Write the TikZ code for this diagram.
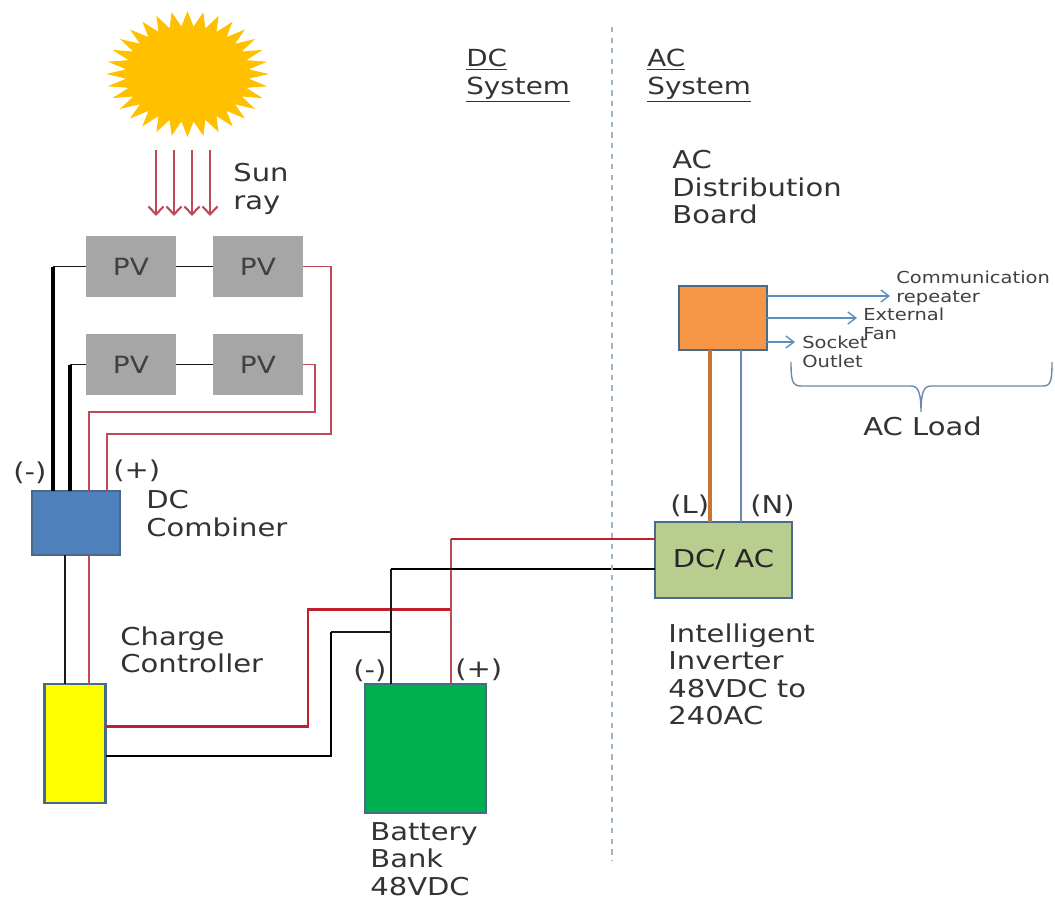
\documentclass[tikz,border=0pt]{standalone}
\usepackage{fontspec}
\setmainfont[FakeStretch=1.18]{DejaVu Sans}
\usetikzlibrary{shapes.geometric,arrows.meta}
\definecolor{pvgray}{HTML}{A6A6A6}
\definecolor{edgeblue}{HTML}{4A6A8A}
\definecolor{combblue}{HTML}{4F81BD}
\definecolor{wirered}{HTML}{C0202C}
\definecolor{thinred}{HTML}{BE4A58}
\definecolor{loadblue}{HTML}{5F8FBF}
\definecolor{dashblue}{HTML}{9DB5C5}
\definecolor{sunfill}{HTML}{FFC000}
\definecolor{ctrlfill}{HTML}{FFFF00}
\definecolor{batfill}{HTML}{00B050}
\definecolor{invfill}{HTML}{B9CE8E}
\definecolor{boardfill}{HTML}{F79646}
\definecolor{linewire}{HTML}{C87533}
\tikzset{
	pvbox/.style={fill=pvgray, minimum width=1.8cm, minimum height=1.22cm, inner sep=0pt, text=black!75, font=\fontsize{13.5}{15}\selectfont},
	unitbox/.style={draw=edgeblue, line width=1.3pt, inner sep=0pt},
	label/.style={anchor=north west, align=left, inner sep=0pt, yshift=-1.8pt, text=black!80, font=\fontsize{14}{15.6}\selectfont},
	small/.style={anchor=north west, align=left, inner sep=0pt, yshift=-1.5pt, text=black!75, font=\fontsize{9.4}{11}\selectfont},
	blackthin/.style={black!90, line width=0.8pt},
	blackmid/.style={black, line width=1.45pt},
	blackthick/.style={black, line width=1.75pt},
	redthin/.style={thinred, line width=0.9pt},
	redthick/.style={wirered, line width=1.7pt},
	ray/.style={thinred, line width=1.2pt, -{Straight Barb[length=1.6mm,width=3mm]}},
	load/.style={loadblue, line width=0.8pt, -{Straight Barb[length=1.6mm,width=2.4mm]}}
}

\begin{document}
\begin{tikzpicture}[x=0.02cm, y=-0.02cm]
	\useasboundingbox (0,0) rectangle (1055,899);

	% sun and rays
	\node[star, star points=32, star point ratio=1.32, minimum size=2.52cm, inner sep=0pt, fill=sunfill, xscale=1.29, transform shape] (sun) at (187.5,74) {};
	\foreach \i/\x in {1/156,2/174,3/192,4/210} {
		\coordinate (raytop\i) at (\x,150);
		\coordinate (rayend\i) at (\x,216);
		\draw[ray] (raytop\i) -- (rayend\i);
	}
	\node[label] (sunray) at (233,160) {Sun\\ray};

	% panels
	\node[pvbox] (pv1) at (131,266.5) {PV};
	\node[pvbox] (pv2) at (258,266.5) {PV};
	\node[pvbox] (pv3) at (131,364.5) {PV};
	\node[pvbox] (pv4) at (258,364.5) {PV};

	% dc side units
	\node[unitbox, fill=combblue, minimum width=1.76cm, minimum height=1.28cm] (combiner) at (76,523) {};
	\node[unitbox, fill=ctrlfill, minimum width=1.22cm, minimum height=2.38cm] (controller) at (75,743.5) {};
	\node[unitbox, fill=batfill, minimum width=2.42cm, minimum height=2.58cm] (battery) at (425.5,748.5) {};

	% ac side units
	\node[unitbox, fill=invfill, minimum width=2.74cm, minimum height=1.52cm, text=black!85, font=\fontsize{14}{15}\selectfont] (inverter) at (723.5,560) {DC/ AC};
	\node[unitbox, fill=boardfill, minimum width=1.76cm, minimum height=1.28cm] (board) at (723,318) {};

	% panels to combiner
	\coordinate (neg1) at (53,266.5);
	\coordinate (neg2) at (70,364.5);
	\coordinate (combneg1) at (53,491);
	\coordinate (combneg2) at (70,491);
	\coordinate (combpos1) at (89,491);
	\coordinate (combpos2) at (107,491);
	\coordinate (pos1) at (331,266.5);
	\coordinate (pos1b) at (331,434);
	\coordinate (pos2) at (315,364.5);
	\coordinate (pos2b) at (315,412);
	\draw[blackthin] (pv1) -- (pv2);
	\draw[blackthin] (pv3) -- (pv4);
	\draw[blackthin] (pv1.west) -- (neg1);
	\draw[blackthin] (pv3.west) -- (neg2);
	\draw[blackthick] (neg1) -- (combneg1);
	\draw[blackthick] (neg2) -- (combneg2);
	\draw[redthin] (pv2.east) -- (pos1) -- (pos1b) -| (combpos2);
	\draw[redthin] (pv4.east) -- (pos2) -- (pos2b) -| (combpos1);

	% combiner to controller
	\coordinate (combout1) at (65,555);
	\coordinate (combout2) at (89,555);
	\coordinate (ctrlin1) at (65,684);
	\coordinate (ctrlin2) at (89,684);
	\draw[blackthin] (combout1) -- (ctrlin1);
	\draw[redthin] (combout2) -- (ctrlin2);

	% controller to battery and inverter
	\coordinate (ctrlpos) at (106,726);
	\coordinate (ctrlneg) at (106,756);
	\coordinate (batpos) at (451,684);
	\coordinate (batneg) at (391,684);
	\coordinate (buspos) at (451,609);
	\coordinate (busneg) at (391,632);
	\coordinate (invpos) at (655,539);
	\coordinate (invneg) at (655,569);
	\draw[redthick] (ctrlpos) -| (308,609) -- (buspos);
	\draw[blackmid] (ctrlneg) -| (331,632);
	\draw[blackthin] (331,632) -- (busneg);
	\draw[redthin] (batpos) -- (buspos) -- (451,539);
	\draw[redthick] (451,539) -- (invpos);
	\draw[blackthin] (batneg) -- (busneg) -- (391,569);
	\draw[blackmid] (391,569) -- (invneg);

	% inverter to board
	\coordinate (boardl) at (710,350);
	\coordinate (boardn) at (741,350);
	\coordinate (invl) at (710,522);
	\coordinate (invn) at (741,522);
	\draw[linewire, line width=2pt] (boardl) -- (invl);
	\draw[loadblue!70!gray, line width=0.8pt] (boardn) -- (invn);

	% loads
	\coordinate (load1a) at (767,296);
	\coordinate (load1b) at (890,296);
	\coordinate (load2a) at (767,318);
	\coordinate (load2b) at (857,318);
	\coordinate (load3a) at (767,342);
	\coordinate (load3b) at (795,342);
	\draw[load] (load1a) -- (load1b);
	\draw[load] (load2a) -- (load2b);
	\draw[load] (load3a) -- (load3b);
	\draw[loadblue!70!gray, line width=0.8pt] (791,362) .. controls (791,380) and (792,386) .. (801,386) -- (911,386) .. controls (918,386) and (921,392) .. (921,412) .. controls (921,392) and (924,386) .. (931,386) -- (1043,386) .. controls (1051,386) and (1052,380) .. (1052,362);

	% divider
	\coordinate (dividetop) at (612,27);
	\coordinate (divideend) at (612,860);
	\draw[dashblue, line width=0.8pt, dashed] (dividetop) -- (divideend);

	% labels
	\node[label, font=\fontsize{13.4}{15.6}\selectfont] (dclabel) at (466,46) {\underline{DC}\\\underline{System}};
	\node[label, font=\fontsize{13.4}{15.6}\selectfont] (aclabel) at (647,46) {\underline{AC}\\\underline{System}};
	\node[label] (boardlabel) at (672,147) {AC\\Distribution\\Board};
	\node[small] (load1) at (896,268) {Communication\\repeater};
	\node[small] (load2) at (863,305) {External\\Fan};
	\node[small] (load3) at (802,333) {Socket\\Outlet};
	\node[label] (acload) at (863,413) {AC Load};
	\node[label] (linelabel) at (670,491) {(L)};
	\node[label] (neutlabel) at (750,491) {(N)};
	\node[label] (invlabel) at (668,620) {Intelligent\\Inverter\\48VDC to\\240AC};
	\node[label, yshift=1.8pt] (batlabel) at (370,822) {Battery\\Bank\\48VDC};
	\node[label] (ctrllabel) at (120,623) {Charge\\Controller};
	\node[label] (comblabel) at (146,487) {DC\\Combiner};
	\node[label] (combneglabel) at (13,458) {(-)};
	\node[label] (combposlabel) at (113,456) {(+)};
	\node[label] (batneglabel) at (353,656) {(-)};
	\node[label] (batposlabel) at (455,655) {(+)};
\end{tikzpicture}
\end{document}
